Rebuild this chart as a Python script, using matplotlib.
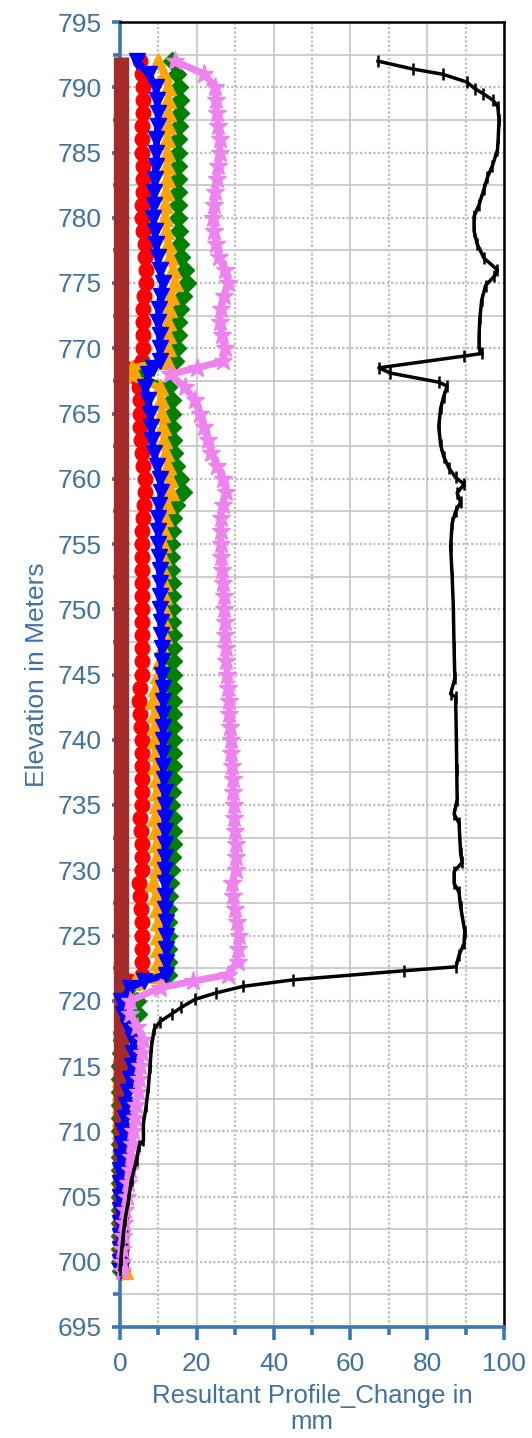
import matplotlib
matplotlib.use('Agg')
import matplotlib.pyplot as plt
from matplotlib.ticker import MultipleLocator

plt.rcParams['font.family'] = ['Liberation Sans', 'DejaVu Sans']

# ---------------- data ----------------
ELEV = [792, 791, 790, 789, 788, 787, 786, 785, 784, 783,
        782, 781, 780, 779, 778, 777, 776, 775, 774, 773,
        772, 771, 770, 769, 768.5, 768, 767, 766, 765, 764,
        763, 762, 761, 760, 759, 758, 757, 756, 755, 754,
        753, 752, 751, 750, 749, 748, 747, 746, 745, 744,
        743, 742, 741, 740, 739, 738, 737, 736, 735, 734,
        733, 732, 731, 730, 729, 728, 727, 726, 725, 724,
        723, 722, 721.5, 721, 720, 719, 718, 717, 716, 715,
        714, 713, 712, 711, 710, 709, 708, 707, 706, 705,
        704, 703, 702, 701, 700, 699.3]

RED = [5.2, 5.6, 6.1, 6.0, 6.1, 5.8, 5.6, 5.6, 5.9, 6.1,
       5.9, 5.7, 5.6, 6.0, 6.4, 6.6, 6.9, 6.9, 6.3, 6.1,
       6.1, 6.1, 6.1, 5.6, 1.3, 2.0, 5.0, 5.2, 5.2, 5.3,
       5.4, 5.7, 6.0, 6.5, 6.6, 6.3, 6.0, 5.8, 5.7, 5.7,
       5.7, 5.7, 5.7, 5.7, 5.7, 5.7, 5.7, 5.7, 5.7, 5.3,
       4.9, 5.3, 5.5, 5.7, 5.7, 5.7, 5.7, 5.7, 5.7, 5.3,
       5.5, 5.7, 5.7, 5.7, 4.9, 5.1, 5.4, 5.6, 5.7, 5.7,
       5.7, 5.7, 2.7, 1.5, 0.6, 0.5, 0.4, 0.3, 0.2, 0.1,
       0.1, 0.0, 0.0, 0.0, 0.0, 0.0, 0.0, 0.0, 0.0, 0.0,
       0.0, 0.0, 0.0, 0.0, 0.1, 0.5]

BLUE = [4.4, 7.5, 9.3, 9.6, 10.0, 9.8, 9.5, 9.5, 9.3, 9.1,
        8.9, 8.8, 8.7, 9.0, 9.4, 9.8, 10.4, 11.3, 10.6, 10.1,
        10.0, 10.3, 10.4, 10.4, 8.5, 7.4, 6.5, 7.4, 7.8, 8.1,
        8.4, 8.9, 9.6, 10.4, 10.8, 10.2, 10.0, 10.0, 10.0, 10.2,
        10.3, 10.4, 10.4, 10.4, 10.6, 10.8, 10.9, 10.9, 10.9, 11.1,
        11.3, 11.3, 11.3, 11.3, 11.3, 11.3, 11.4, 11.6, 11.7, 11.7,
        11.7, 11.7, 11.7, 11.7, 11.7, 11.7, 11.8, 12.0, 12.1, 12.1,
        12.1, 12.1, 6.2, 2.7, 0.2, 0.9, 2.0, 3.5, 3.5, 3.0,
        2.6, 2.1, 1.6, 1.2, 0.9, 0.5, 0.3, 0.1, 0.0, 0.0,
        0.0, 0.0, 0.0, 0.0, 0.0, 0.1]

ORANGE = [10.0, 11.5, 12.5, 12.6, 12.6, 12.4, 12.2, 12.2, 12.2, 12.2,
          12.0, 11.8, 11.7, 12.0, 12.5, 13.0, 13.9, 14.3, 13.2, 12.7,
          12.6, 12.6, 12.6, 12.2, 3.0, 0.9, 10.4, 10.6, 10.9, 11.2,
          11.5, 11.9, 12.4, 13.0, 13.2, 12.2, 11.6, 11.4, 11.2, 11.2,
          11.3, 11.4, 11.4, 11.4, 11.5, 11.5, 11.0, 10.5, 10.0, 9.3,
          8.7, 9.1, 9.1, 9.1, 9.3, 9.5, 9.6, 9.6, 9.6, 9.1,
          9.4, 9.6, 9.6, 9.6, 8.7, 9.3, 9.7, 9.9, 10.0, 10.0,
          10.0, 10.0, 4.0, 1.5, 0.6, 0.5, 0.4, 0.4, 0.3, 0.2,
          0.1, 0.0, 0.0, 0.0, 0.0, 0.0, 0.0, 0.0, 0.0, 0.0,
          0.0, 0.0, 0.0, 0.1, 0.4, 1.3]

GREEN = [13.5, 14.8, 15.4, 15.5, 15.6, 15.4, 15.2, 15.2, 15.2, 15.2,
         15.2, 15.2, 15.2, 15.3, 15.5, 16.0, 16.9, 17.4, 16.3, 15.5,
         15.2, 15.0, 14.8, 14.3, 6.0, 2.2, 12.5, 13.5, 13.5, 13.6,
         13.8, 14.0, 14.7, 15.6, 16.5, 14.5, 13.7, 13.5, 13.4, 13.4,
         13.4, 13.5, 13.5, 13.5, 13.6, 13.8, 13.8, 13.8, 13.8, 13.8,
         13.8, 13.8, 13.8, 13.8, 13.8, 13.8, 13.7, 13.5, 13.4, 13.8,
         13.8, 13.8, 13.6, 13.4, 13.0, 12.7, 12.6, 12.6, 12.6, 12.6,
         12.6, 12.6, 5.0, 2.0, 4.3, 4.8, 1.5, 0.6, 0.3, 0.1,
         0.0, 0.0, 0.0, 0.0, 0.0, 0.0, 0.0, 0.0, 0.0, 0.0,
         0.0, 0.0, 0.0, 0.0, 0.1, 0.3]

VIOLET = [14.3, 22.0, 24.7, 25.0, 25.2, 25.6, 26.0, 26.0, 25.6, 25.2,
          24.8, 24.5, 24.3, 24.6, 25.0, 25.8, 27.3, 28.2, 27.0, 26.3,
          26.0, 26.5, 27.3, 26.9, 20.0, 13.0, 17.0, 19.5, 20.8, 21.8,
          22.8, 23.8, 25.3, 26.9, 27.6, 26.7, 26.2, 26.2, 26.2, 26.4,
          26.6, 26.8, 27.0, 27.1, 27.3, 27.4, 27.5, 27.7, 27.9, 28.2,
          28.4, 28.5, 28.6, 28.8, 29.0, 29.1, 29.3, 29.5, 29.7, 29.7,
          29.9, 30.1, 30.1, 30.1, 29.2, 29.5, 29.9, 30.5, 30.9, 30.8,
          30.6, 28.0, 19.0, 10.4, 2.6, 2.6, 4.5, 6.1, 5.6, 5.2,
          5.0, 4.7, 4.2, 3.8, 3.5, 3.1, 2.8, 2.5, 2.1, 1.8,
          1.4, 1.1, 0.8, 0.5, 0.4, 0.4]

BROWN_ELEV = [792.3, 785, 775, 765, 755, 745, 735, 725, 715, 705, 699.3]
BROWN = [0.3, 0.3, 0.3, 0.3, 0.3, 0.3, 0.3, 0.3, 0.3, 0.3, 0.3]

BLACK_ELEV = [792.0, 791.4, 791.0, 790.4, 789.9, 789.5, 789.0, 788.5, 787.5, 786.1,
              785.2, 784.0, 783.1, 782.2, 781.0, 780.1, 779.0, 778.0, 776.9, 776.0,
              775.5, 774.8, 773.7, 772.3, 770.9, 770.0, 769.6, 769.4, 768.5, 768.1,
              767.4, 767.1, 766.3, 765.4, 764.0, 762.6, 761.7, 760.8, 760.1, 759.6,
              758.9, 758.2, 757.5, 756.6, 754.8, 752.5, 750.2, 747.0, 744.7, 743.5,
              743.3, 740.0, 737.7, 735.4, 734.3, 733.6, 731.3, 730.6, 729.9, 729.0,
              728.3, 727.2, 725.3, 724.4, 723.5, 722.6, 722.3, 721.6, 721.1, 720.6,
              720.1, 719.5, 719.0, 718.4, 717.8, 716.5, 714.9, 713.4, 711.9, 710.6,
              709.3, 708.9, 707.8, 706.3, 704.7, 703.2, 701.7, 700.1, 699.4]
BLACK = [67.2, 76.2, 84.0, 90.3, 92.4, 94.6, 97.2, 98.4, 98.7, 98.5,
         98.3, 97.0, 95.7, 94.8, 93.5, 92.2, 92.2, 93.0, 94.8, 98.3,
         97.4, 95.2, 94.2, 93.7, 93.5, 93.5, 94.3, 89.6, 67.4, 70.4,
         83.0, 85.2, 84.3, 83.5, 83.0, 83.5, 84.3, 85.7, 87.4, 89.6,
         87.8, 88.7, 87.4, 86.5, 86.1, 86.5, 86.8, 87.0, 87.2, 86.1,
         87.4, 87.6, 87.7, 87.8, 87.0, 88.3, 88.7, 89.1, 87.0, 87.0,
         88.3, 88.7, 89.8, 89.6, 88.3, 87.5, 74.0, 45.0, 32.0, 25.0,
         19.5, 16.0, 13.5, 10.4, 8.9, 8.2, 7.8, 7.4, 6.8, 6.1,
         6.1, 5.0, 4.3, 3.0, 2.2, 1.3, 0.7, 0.2, 0.0]

X_LABEL = "Resultant Profile_Change in\nmm"
Y_LABEL = "Elevation in Meters"

assert len(ELEV) == len(RED) == len(BLUE) == len(ORANGE) == len(GREEN) == len(VIOLET)
assert len(BLACK_ELEV) == len(BLACK)

# ---------------- styling ----------------
AX_BLUE = '#3B78B2'
TXT = '#41729F'
GRID = '#c8c8c8'

fig = plt.figure(figsize=(5.32, 14.38), dpi=100)
ax = fig.add_axes([120/532, 1 - 1327/1438, 384/532, 1305/1438])

ax.set_xlim(0, 100)
ax.set_ylim(695, 795)
ax.xaxis.set_major_locator(MultipleLocator(20))
ax.xaxis.set_minor_locator(MultipleLocator(10))
ax.yaxis.set_major_locator(MultipleLocator(5))
ax.yaxis.set_minor_locator(MultipleLocator(2.5))

ax.set_axisbelow(True)
ax.xaxis.grid(True, which='major', color=GRID, lw=1.3, ls='-')
ax.xaxis.grid(True, which='minor', color='#bdbdbd', lw=1.6, ls=(0, (1, 1)))
ax.yaxis.grid(True, which='major', color='#bdbdbd', lw=1.6, ls=(0, (1, 1)))
ax.yaxis.grid(True, which='minor', color=GRID, lw=1.3, ls='-')

common = dict(clip_on=False)
ax.plot(RED, ELEV, color='#FF0000', lw=5, marker='o', ms=10.5, mec='#FF0000', zorder=4, **common)
ax.plot(GREEN, ELEV, color='#008000', lw=5, marker='D', ms=9, mec='#008000', zorder=5, **common)
ax.plot(ORANGE, ELEV, color='#FFA500', lw=5, marker='^', ms=11, mec='#FFA500', zorder=6, **common)
ax.plot(BROWN, BROWN_ELEV, color='#A52A2A', lw=11, solid_capstyle='butt', zorder=6.5, **common)
ax.plot(BLUE, ELEV, color='#0000FF', lw=5, marker='v', ms=11, mec='#0000FF', zorder=7, **common)
ax.plot(VIOLET, ELEV, color='#EE82EE', lw=5, marker='*', ms=14, mec='#EE82EE', zorder=8, **common)
ax.plot(BLACK, BLACK_ELEV, color='black', lw=2.5, marker='|', ms=9, mew=1.8, zorder=9, **common)

for s in ('left', 'bottom'):
    ax.spines[s].set_color(AX_BLUE)
    ax.spines[s].set_linewidth(2.6)
for s in ('top', 'right'):
    ax.spines[s].set_color('black')
    ax.spines[s].set_linewidth(1.8)

ax.tick_params(axis='both', which='both', direction='out', color=AX_BLUE,
               labelcolor=TXT, width=2.6)
ax.tick_params(axis='y', which='major', length=6, labelsize=19, pad=7)
ax.tick_params(axis='y', which='minor', length=5)
ax.tick_params(axis='x', which='major', length=9, labelsize=19, pad=9)
ax.tick_params(axis='x', which='minor', length=6)

ax.set_ylabel(Y_LABEL, color=TXT, fontsize=19, labelpad=6)
ax.set_xlabel(X_LABEL, color=TXT, fontsize=18.5, labelpad=6, linespacing=1.1)

fig.savefig('out.png', dpi=100)
